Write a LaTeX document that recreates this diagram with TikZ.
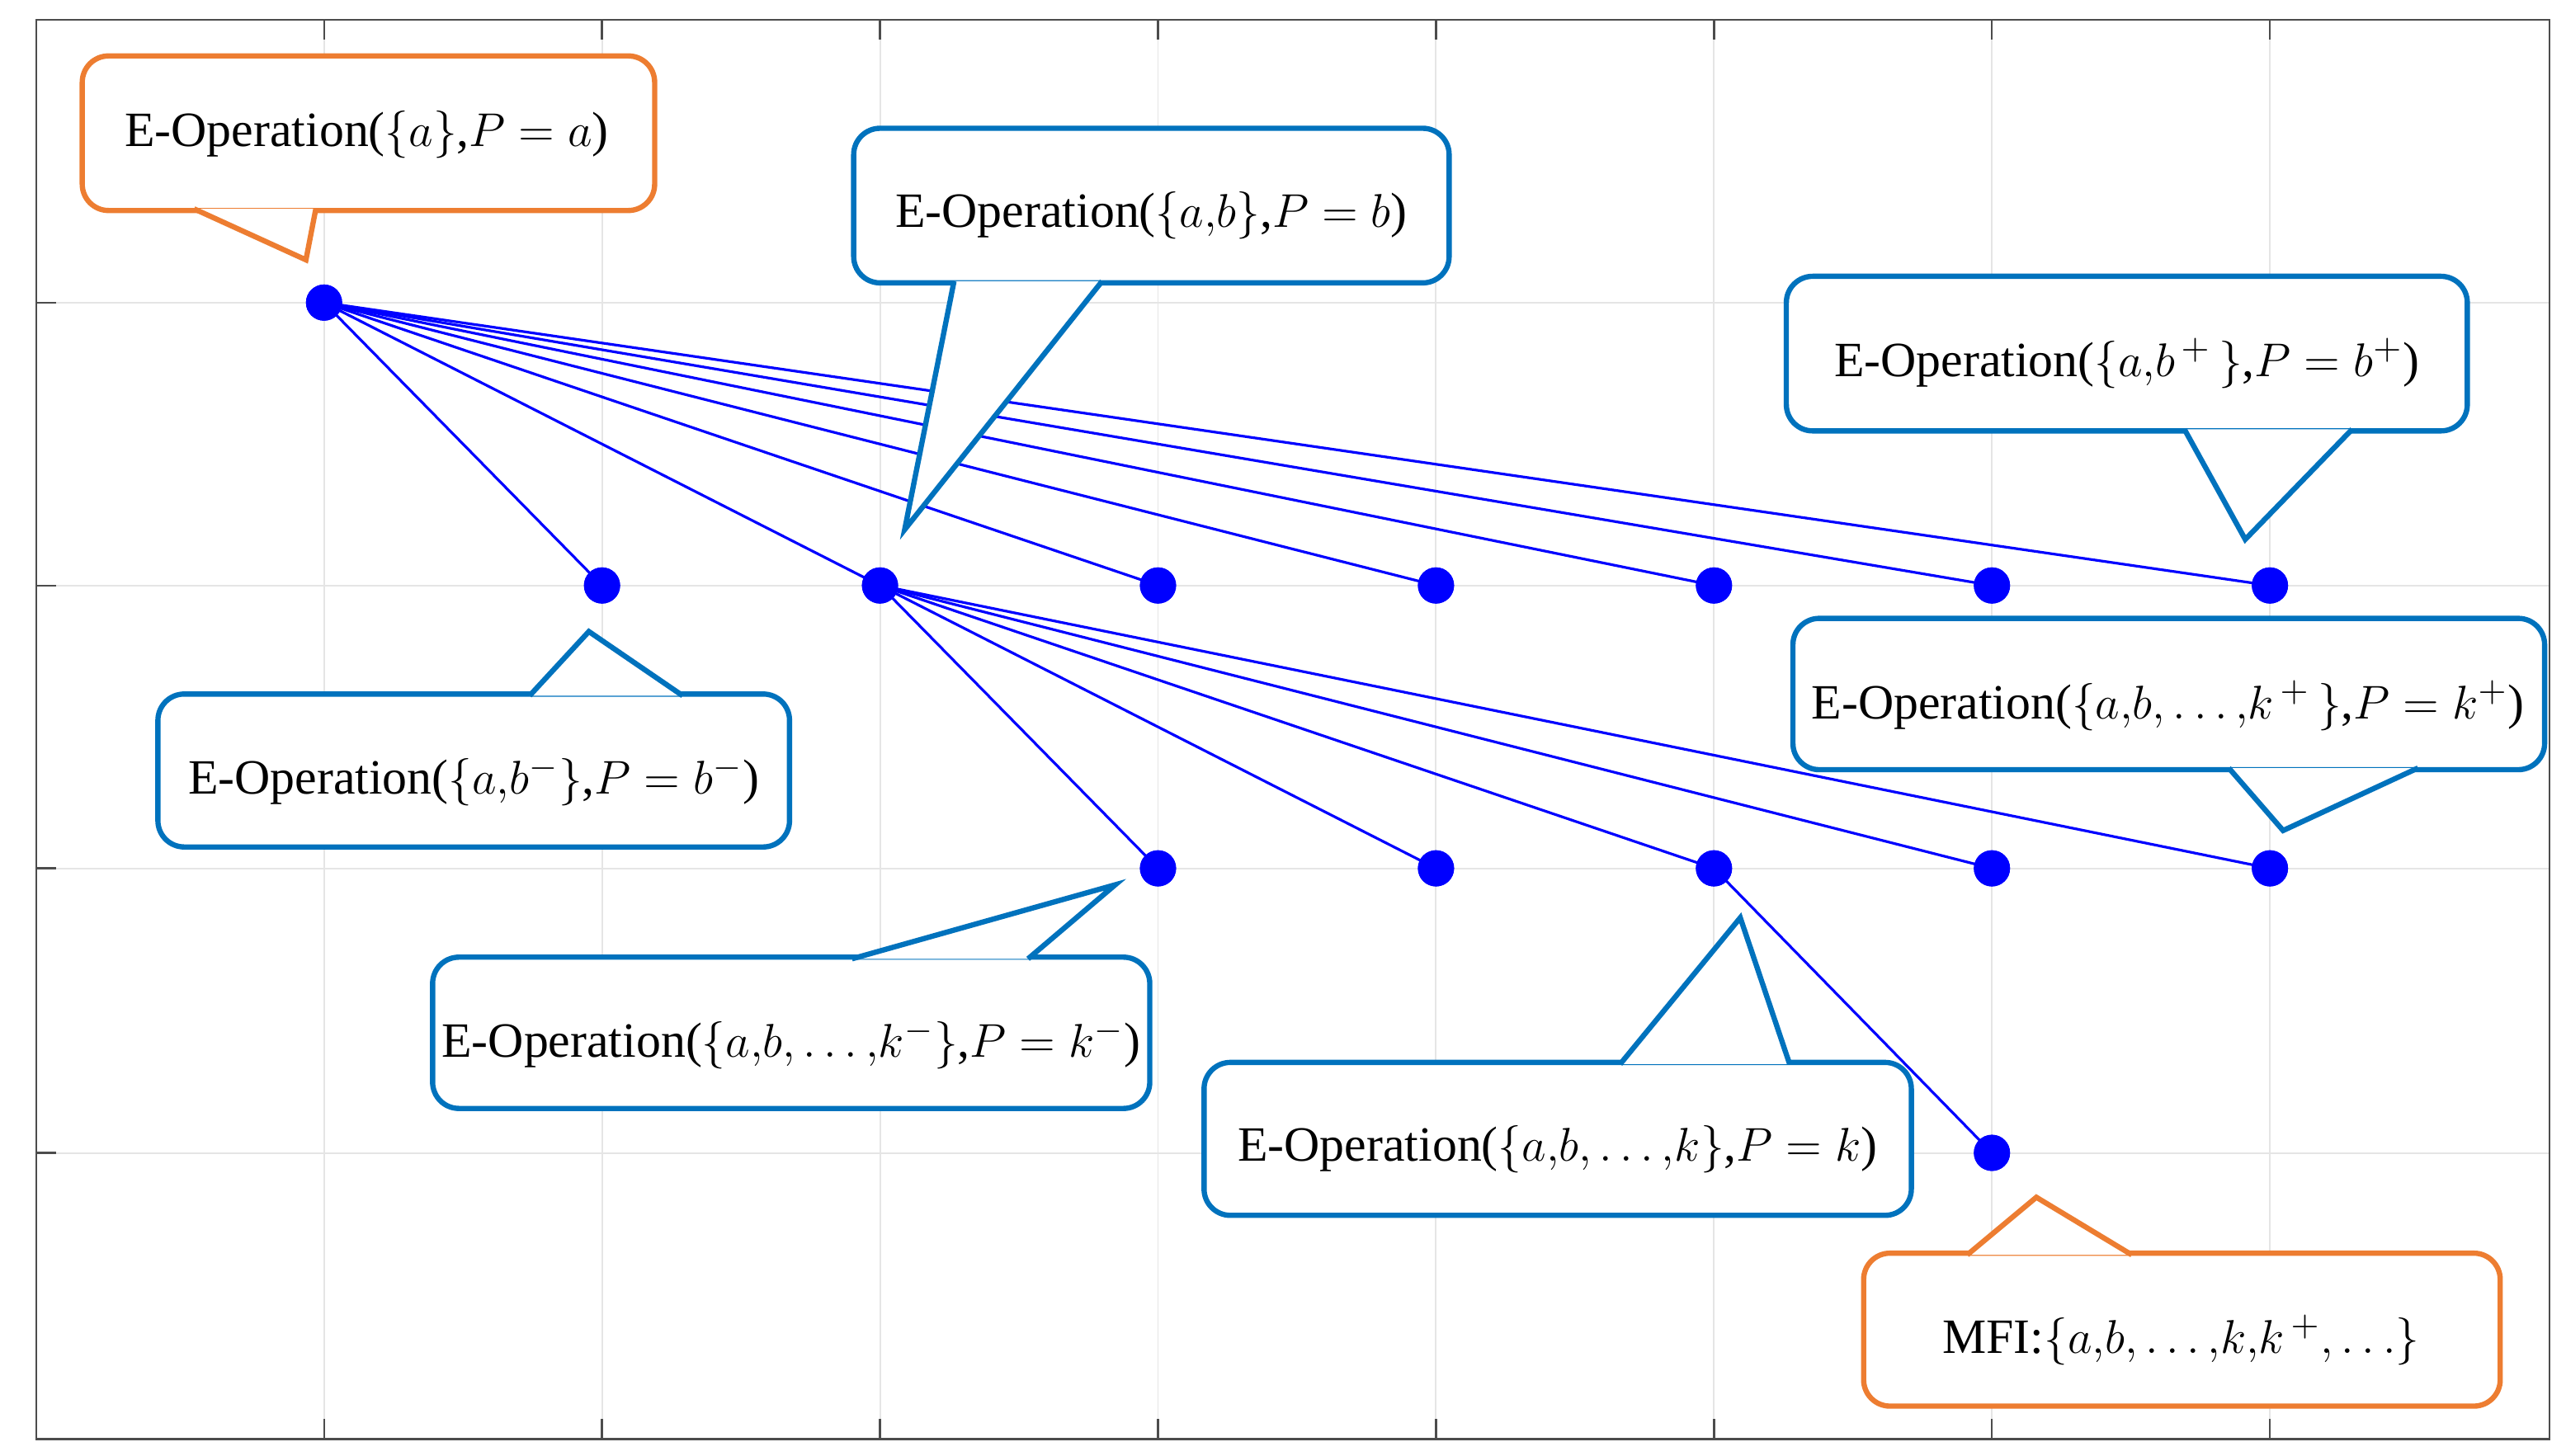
\documentclass[tikz,border=0pt]{standalone}
\usepackage{fontspec}
\setmainfont{Liberation Serif}
\begin{document}
\begin{tikzpicture}[x=0.5pt,y=-0.5pt,
  dot/.style={circle,fill=blue,inner sep=0pt,minimum size=11pt},
  edge/.style={blue,line width=0.8pt},
  bl/.style={draw={rgb,255:red,0;green,114;blue,189},line width=1.6pt,rounded corners=8pt,fill=white},
  orr/.style={draw={rgb,255:red,237;green,125;blue,49},line width=1.6pt,rounded corners=8pt,fill=white},
  lab/.style={font=\fontsize{15}{18}\selectfont}]
\useasboundingbox (0,0) rectangle (1560,885);
\fill[white] (0,0) rectangle (1560,885);
% grid
\foreach \x in {197,366,535,704,873,1042,1211,1380}{
  \draw[black!10,line width=0.5pt] (\x,12) -- (\x,875);
  \draw[black!70,line width=0.6pt] (\x,12) -- (\x,24);
  \draw[black!70,line width=0.6pt] (\x,875) -- (\x,863);}
\foreach \y in {184,356,528,701}{
  \draw[black!10,line width=0.5pt] (22,\y) -- (1550,\y);
  \draw[black!70,line width=0.6pt] (22,\y) -- (34,\y);}
\draw[black!70,line width=0.6pt] (22,12) rectangle (1550,875);
% nodes
\node[dot] (a) at (197,184) {};
\foreach \x/\n in {366/r1,535/r2,704/r3,873/r4,1042/r5,1211/r6,1380/r7}
  \node[dot] (\n) at (\x,356) {};
\foreach \x/\n in {704/s1,873/s2,1042/s3,1211/s4,1380/s5}
  \node[dot] (\n) at (\x,528) {};
\node[dot] (m) at (1211,701) {};
\foreach \n in {r1,r2,r3,r4,r5,r6,r7} \draw[edge] (a.center) -- (\n.center);
\foreach \n in {s1,s2,s3,s4,s5} \draw[edge] (r2.center) -- (\n.center);
\draw[edge] (s3.center) -- (m.center);
\foreach \n in {a,r1,r2,r3,r4,r5,r6,r7,s1,s2,s3,s4,s5,m} \fill[blue] (\n) circle (11);
% callouts: rect, pointer base1, tip, base2, text pos
\newcommand{\callout}[9]{%
  \path[#1] (#2) rectangle (#3);
  \fill[white] (#4) -- (#5) -- (#6) -- cycle;
  \draw[#1,fill=none,rounded corners=0pt] (#4) -- (#5) -- (#6);
  \node[lab] (#9) at (#7) {#8};}
\callout{orr}{50,34}{398,128}{118,127}{186,158}{192,127}{223,82}{E-Operation($\{a\}$,$P = a$)}{c1}
\callout{bl}{519,78}{881,172}{580,171}{550,322}{670,171}{700,131}{E-Operation($\{a{,}b\}$,$P = b$)}{c2}
\callout{bl}{1086,168}{1500,262}{1328,261}{1365,328}{1430,261}{1293,221}{E-Operation($\{a{,}b^{\,+}\,\}$,$P = b^{+}$)}{c3}
\callout{bl}{96,422}{480,515}{322,423}{358,384}{415,423}{288,475}{E-Operation($\{a{,}b^{-}\}$,$P = b^{-}$)}{c4}
\callout{bl}{1090,376}{1547,468}{1355,467}{1388,505}{1470,467}{1318,429}{E-Operation($\{a{,}b{,}\ldots{,}k^{\,+}\,\}$,$P = k^{+}$)}{c5}
\callout{bl}{263,582}{699,674}{518,583}{678,538}{625,583}{481,635}{E-Operation($\{a{,}b{,}\ldots{,}k^{-}\}$,$P = k^{-}$)}{c6}
\callout{bl}{732,646}{1162,739}{985,647}{1058,558}{1088,647}{947,699}{E-Operation($\{a{,}b{,}\ldots{,}k\}$,$P = k$)}{c7}
\callout{orr}{1133,762}{1520,855}{1196,763}{1238,728}{1296,763}{1326,815}{MFI:$\{a{,}b{,}\ldots{,}k{,}k^{\,+}{,}\ldots\}$}{c8}
\end{tikzpicture}
\end{document}
